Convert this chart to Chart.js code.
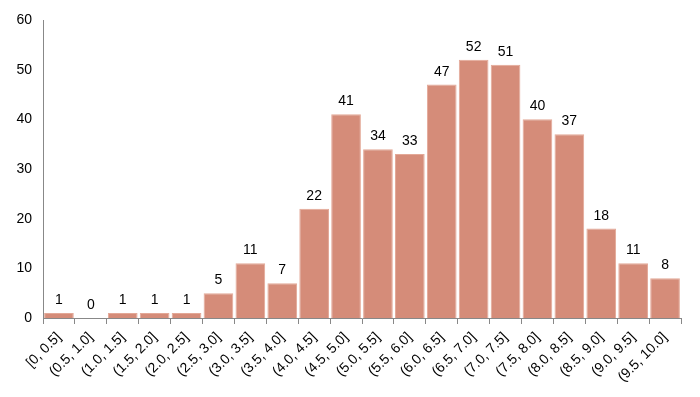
<!DOCTYPE html>
<html>
<head>
<meta charset="utf-8">
<script src="https://cdn.jsdelivr.net/npm/chart.js@4/dist/chart.umd.min.js"></script>
<style>
  html, body { margin: 0; padding: 0; background: #fff; }
  #wrap { width: 700px; height: 397px; }
</style>
</head>
<body>
<div id="wrap"><canvas id="histChart"></canvas></div>
<script>
const bins = ['[0, 0.5]', '(0.5, 1.0]', '(1.0, 1.5]', '(1.5, 2.0]', '(2.0, 2.5]',
  '(2.5, 3.0]', '(3.0, 3.5]', '(3.5, 4.0]', '(4.0, 4.5]', '(4.5, 5.0]',
  '(5.0, 5.5]', '(5.5, 6.0]', '(6.0, 6.5]', '(6.5, 7.0]', '(7.0, 7.5]',
  '(7.5, 8.0]', '(8.0, 8.5]', '(8.5, 9.0]', '(9.0, 9.5]', '(9.5, 10.0]'];
const counts = [1, 0, 1, 1, 1, 5, 11, 7, 22, 41, 34, 33, 47, 52, 51, 40, 37, 18, 11, 8];
const yTicks = [0, 10, 20, 30, 40, 50, 60];

const fontFamily = '"Liberation Sans", Arial, sans-serif';

// value labels above each bar
const barLabels = {
  id: 'barLabels',
  afterDatasetsDraw(chart) {
    const ctx = chart.ctx;
    const meta = chart.getDatasetMeta(0);
    ctx.save();
    ctx.font = '14px ' + fontFamily;
    ctx.fillStyle = '#000';
    ctx.textAlign = 'center';
    ctx.textBaseline = 'alphabetic';
    meta.data.forEach((bar, i) => {
      ctx.fillText(String(counts[i]), bar.x, bar.y - 9);
    });
    ctx.restore();
  },
};

const context = document.getElementById('histChart').getContext('2d');

new Chart(context, {
  type: 'bar',
  data: {
    labels: bins,
    datasets: [
      {
        data: counts,
        backgroundColor: '#D58C79',
        borderColor: '#E3A897',
        borderWidth: 1,
        barPercentage: 1,
        categoryPercentage: 0.93,
      },
    ],
  },
  options: {
    responsive: true,
    maintainAspectRatio: false,
    animation: false,
    layout: { padding: { top: 20, right: 19, bottom: 0, left: 0 } },
    plugins: {
      legend: { display: false },
      tooltip: { enabled: false },
    },
    scales: {
      x: {
        offset: true,
        grid: {
          display: true,
          drawOnChartArea: false,
          offset: true,
          tickLength: 6,
          color: '#888',
        },
        border: { color: '#888', width: 1 },
        ticks: {
          autoSkip: false,
          maxRotation: 45,
          minRotation: 45,
          color: '#000',
          font: { family: fontFamily, size: 14 },
          padding: 5,
        },
        afterFit(scale) { scale.height = 79; },
      },
      y: {
        min: 0,
        max: 60,
        afterBuildTicks(scale) { scale.ticks = yTicks.map((v) => ({ value: v })); },
        grid: { display: false, drawTicks: false },
        border: { color: '#888', width: 1 },
        ticks: {
          color: '#000',
          font: { family: fontFamily, size: 14 },
          padding: 11,
        },
        afterFit(scale) { scale.width = 43; },
      },
    },
  },
  plugins: [barLabels],
});
</script>
</body>
</html>
